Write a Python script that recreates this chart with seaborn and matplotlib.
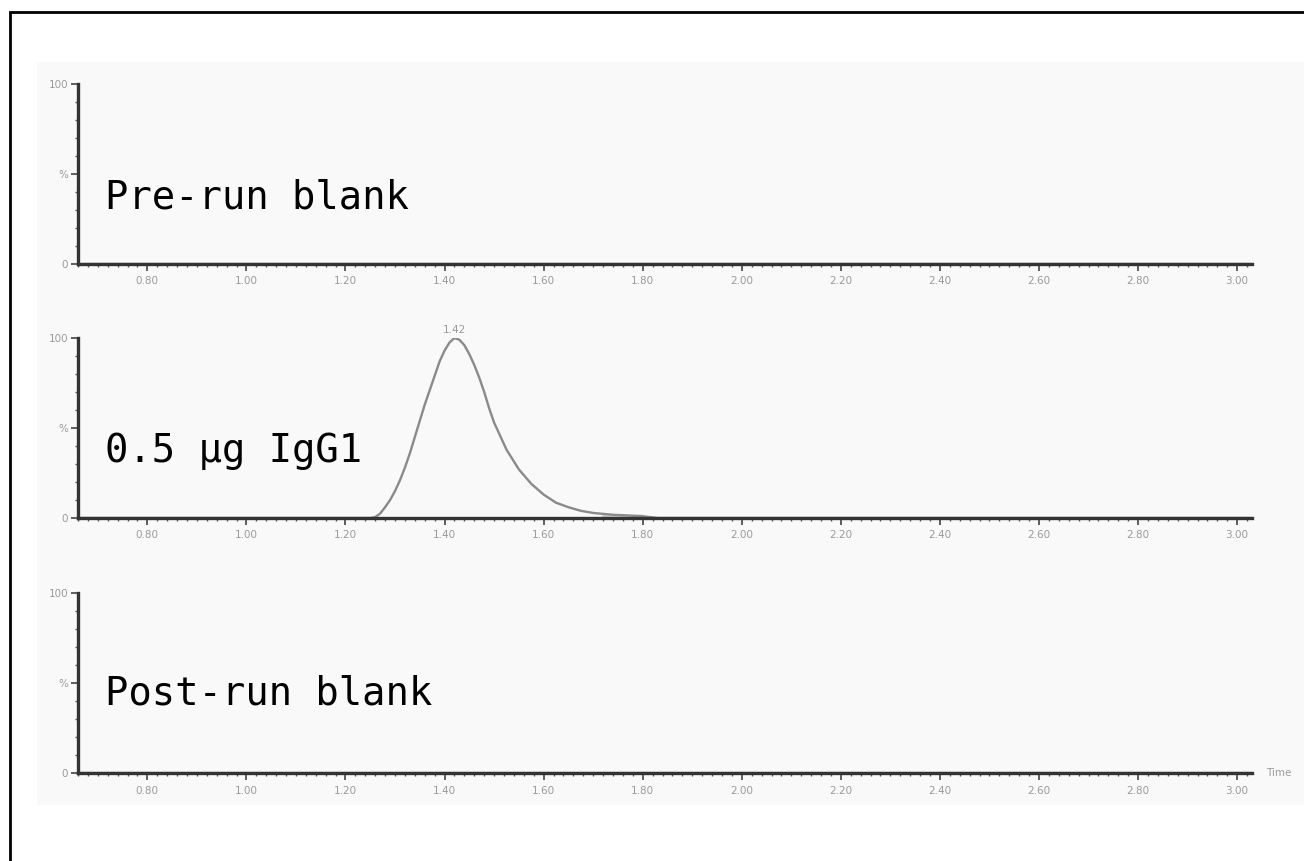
import matplotlib
matplotlib.use("Agg")
import matplotlib.pyplot as plt
from matplotlib.ticker import FixedLocator, MultipleLocator
from matplotlib.patches import Rectangle
import seaborn as sns
import pandas as pd

# panel names (top to bottom)
panels = ["Pre-run blank", "0.5 µg IgG1", "Post-run blank"]

# chromatogram of the IgG1 injection (time in min, signal in %)
igg_time = [0.66, 1.20, 1.25, 1.26, 1.27, 1.28, 1.29, 1.30, 1.31, 1.32, 1.33,
            1.34, 1.35, 1.36, 1.37, 1.38, 1.39, 1.40, 1.41, 1.42, 1.43,
            1.44, 1.45, 1.46, 1.47, 1.48, 1.49, 1.50, 1.525, 1.55, 1.575,
            1.60, 1.625, 1.65, 1.675, 1.70, 1.74, 1.80, 1.83, 3.03]
igg_signal = [0, 0, 0, 0.5, 2.5, 6, 10, 15, 21, 28, 36,
              45, 54, 63, 71, 79, 87, 93, 97.5, 100, 99,
              96, 91, 85, 78, 70, 61, 53, 38, 27, 19,
              13, 8.5, 6, 4, 2.8, 1.8, 1, 0, 0]

# blanks: flat trace
blank_time = [0.66, 3.03]
blank_signal = [0, 0]

peak_time = 1.42
peak_label = "1.42"

x_major = [0.80, 1.00, 1.20, 1.40, 1.60, 1.80, 2.00, 2.20, 2.40, 2.60, 2.80, 3.00]
x_labels = ["0.80", "1.00", "1.20", "1.40", "1.60", "1.80",
            "2.00", "2.20", "2.40", "2.60", "2.80", "3.00"]
y_major = [0, 50, 100]
y_labels = ["0", "%", "100"]

sns.set_style("white")
plt.rcParams["font.family"] = ["DejaVu Sans"]

fig = plt.figure(figsize=(13.04, 8.61), dpi=100)
fig.patch.set_facecolor("white")

# light grey screenshot area and black frame
fig.patches.append(Rectangle((37 / 1304, 1 - 805 / 861), 1 - 37 / 1304, (805 - 62) / 861,
                             transform=fig.transFigure, facecolor="#f9f9f9",
                             edgecolor="none", zorder=-2))
fig.patches.append(Rectangle((10 / 1304, -0.05), 1.1, 1 - 12 / 861 + 0.05,
                             transform=fig.transFigure, facecolor="none",
                             edgecolor="black", linewidth=2, zorder=-1))

left, width = 78 / 1304, (1252 - 78) / 1304
bottoms = [1 - 264 / 861, 1 - 518 / 861, 1 - 773 / 861]
height = 180 / 861
text_y = [31, 31, 38]

traces = [
    pd.DataFrame({"time": blank_time, "signal": blank_signal}),
    pd.DataFrame({"time": igg_time, "signal": igg_signal}),
    pd.DataFrame({"time": blank_time, "signal": blank_signal}),
]

for i, name in enumerate(panels):
    ax = fig.add_axes([left, bottoms[i], width, height])
    ax.set_facecolor("none")
    sns.lineplot(data=traces[i], x="time", y="signal", ax=ax,
                 color="#8a8a8a", linewidth=1.7, zorder=3)
    ax.set_xlim(0.66, 3.03)
    ax.set_ylim(0, 100)
    ax.set_xlabel("")
    ax.set_ylabel("")

    for s in ["top", "right"]:
        ax.spines[s].set_visible(False)
    for s in ["left", "bottom"]:
        ax.spines[s].set_color("#333333")
        ax.spines[s].set_linewidth(2.4)
        ax.spines[s].set_zorder(4)

    ax.xaxis.set_major_locator(FixedLocator(x_major))
    ax.set_xticklabels(x_labels)
    ax.xaxis.set_minor_locator(MultipleLocator(0.02))
    ax.yaxis.set_major_locator(FixedLocator(y_major))
    ax.set_yticklabels(y_labels)
    ax.yaxis.set_minor_locator(MultipleLocator(10))
    ax.tick_params(axis="both", which="major", direction="out", length=5, width=1.2,
                   color="#444444", labelsize=7.5, labelcolor="#9a9a9a", pad=4)
    ax.tick_params(axis="both", which="minor", direction="out", length=2.5, width=1,
                   color="#555555")
    ax.tick_params(axis="x", which="both", bottom=True)
    ax.tick_params(axis="y", which="both", left=True, pad=2)

    ax.text(0.714, text_y[i], name, family="DejaVu Sans Mono", fontsize=28,
            color="black", ha="left", va="baseline")

    if i == 1:
        ax.text(peak_time, 101.5, peak_label, fontsize=7.5, color="#9a9a9a",
                ha="center", va="bottom", clip_on=False)
        ax.plot([1.72, 1.80], [1.2, 1.2], color="#cfcfcf", linewidth=2.5, zorder=2)
    if i == 2:
        ax.text(1.012, 0, "Time", transform=ax.transAxes, fontsize=7.5,
                color="#9a9a9a", ha="left", va="center", clip_on=False)

fig.savefig("out.png", dpi=100)
